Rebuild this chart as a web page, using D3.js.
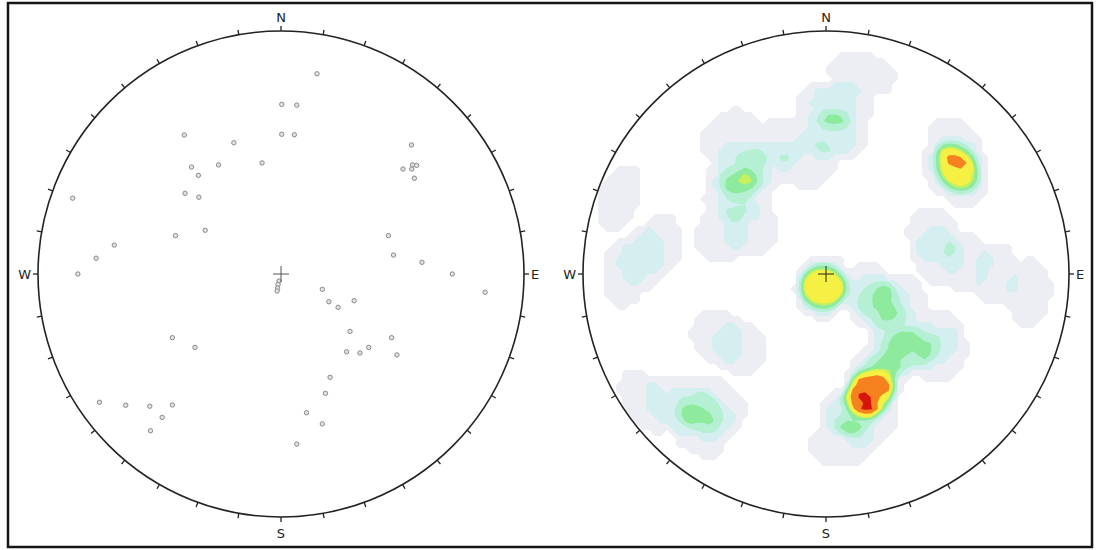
<!DOCTYPE html>
<html>
<head>
<meta charset="utf-8">
<script src="https://cdn.jsdelivr.net/npm/d3@7"></script>
<style>
  body { margin: 0; background: #fff; }
  svg { display: block; }
</style>
</head>
<body>
<svg id="chart" width="1096" height="550"></svg>
<script>
const poleX = [0.148, 0.003, 0.065, -0.398, -0.194, 0.003, 0.055, 0.537, -0.368, -0.257,
  -0.078, -0.340, 0.502, 0.538, 0.541, 0.558, 0.549, -0.857, -0.395, -0.338,
  -0.312, -0.434, -0.686, -0.761, 0.442, 0.463, 0.580, -0.836, 0.705, -0.008,
  -0.012, -0.014, -0.016, 0.170, 0.197, 0.235, 0.301, 0.840, -0.447, -0.354,
  0.284, 0.455, 0.270, 0.325, 0.361, 0.477, 0.202, 0.183, -0.747, -0.639,
  -0.540, -0.447, -0.489, -0.537, 0.105, 0.170, 0.065];
const poleY = [0.824, 0.698, 0.695, 0.572, 0.540, 0.575, 0.573, 0.531, 0.440, 0.449,
  0.457, 0.406, 0.432, 0.432, 0.449, 0.447, 0.394, 0.312, 0.332, 0.316,
  0.180, 0.158, 0.119, 0.065, 0.158, 0.078, 0.048, 0.000, 0.000, -0.029,
  -0.043, -0.058, -0.070, -0.063, -0.114, -0.137, -0.110, -0.075, -0.262, -0.302,
  -0.236, -0.262, -0.320, -0.325, -0.302, -0.333, -0.425, -0.491, -0.528, -0.540,
  -0.544, -0.539, -0.590, -0.645, -0.571, -0.617, -0.700];
// poles stacked on the same marker (guessed from the density plot)
const poleCount = [1, 1, 1, 1, 1, 1, 1, 1, 1, 1,
  1, 1, 1, 1, 1, 1, 1, 1, 1, 1,
  1, 1, 1, 1, 1, 1, 1, 1, 1, 1,
  1, 1, 2, 1, 1, 1, 1, 1, 1, 1,
  1, 1, 1, 1, 1, 1, 2, 4, 1, 1,
  1, 1, 1, 1, 2, 1, 1];

const directions = ["N", "E", "S", "W"];
const tickAngles = d3.range(0, 360, 10);
const densityLevels = [0.15, 1.2, 2.2, 3.2, 4.1, 4.5, 5.6, 6.75];
const levelColors = ["#eceef3", "#d5eff1", "#b6f0d4", "#8eeb9e", "#c6f05c", "#f6f044", "#f5821f", "#d8140f"];

const R = 243, cy = 274;
const nets = [{cx: 281, kind: "poles"}, {cx: 826, kind: "density"}];
const countRadius = 8, countSoft = 2.5; // degrees

const svg = d3.select("#chart");

svg.append("rect")
  .attr("x", 8).attr("y", 3).attr("width", 1084).attr("height", 544)
  .attr("fill", "none").attr("stroke", "#151515").attr("stroke-width", 2.5);

// unit-radius -> pixel offset
const unit = d3.scaleLinear().domain([-1, 1]).range([-R, R]);

// equal-area (lower hemisphere) inverse: projected point -> unit vector
function toVec(u, v) {
  const r2 = Math.min(u * u + v * v, 2);
  const s = Math.sqrt(2 - r2);
  return [u * s, v * s, 1 - r2];
}
const poleVecs = poleX.map((u, i) => toVec(u, poleY[i]));

// counting-circle density on a coarse grid
const step = 6, n = 84, half = step * n / 2;
const values = new Float64Array(n * n);
for (let j = 0; j < n; j++) {
  for (let i = 0; i < n; i++) {
    const u = unit.invert((i + 0.5) * step - half);
    const v = -unit.invert((j + 0.5) * step - half);
    const g = toVec(u, v);
    let sum = 0;
    poleVecs.forEach((p, k) => {
      const dot = Math.abs(p[0] * g[0] + p[1] * g[1] + p[2] * g[2]);
      const ang = Math.acos(Math.min(1, dot)) * 180 / Math.PI;
      let t = (countRadius + countSoft - ang) / (2 * countSoft);
      t = Math.max(0, Math.min(1, t));
      sum += poleCount[k] * t * t * (3 - 2 * t);
    });
    values[j * n + i] = sum;
  }
}
// low levels drawn blocky, the rest interpolated
const blocky = d3.contours().size([n, n]).smooth(false).thresholds(densityLevels.slice(0, 2))(values);
const smooth = d3.contours().size([n, n]).thresholds(densityLevels.slice(2))(values);
const bands = blocky.concat(smooth);

nets.forEach((net, idx) => {
  const g = svg.append("g");
  const x = d3.scaleLinear().domain([-1, 1]).range([net.cx - R, net.cx + R]);
  const y = d3.scaleLinear().domain([-1, 1]).range([cy + R, cy - R]);

  if (net.kind === "density") {
    const clipId = "clip" + idx;
    svg.append("clipPath").attr("id", clipId)
      .append("circle").attr("cx", net.cx).attr("cy", cy).attr("r", R);
    const path = d3.geoPath(d3.geoIdentity().scale(step).translate([net.cx - half, cy - half]));
    g.append("g").attr("clip-path", `url(#${clipId})`)
      .selectAll("path")
      .data(bands)
      .join("path")
        .attr("d", path)
        .attr("fill", (d, i) => levelColors[i]);
  }

  g.append("circle")
    .attr("cx", net.cx).attr("cy", cy).attr("r", R)
    .attr("fill", "none").attr("stroke", "#222").attr("stroke-width", 1.6);

  g.selectAll("line.tick")
    .data(tickAngles)
    .join("line")
      .attr("class", "tick")
      .attr("x1", a => net.cx + R * Math.sin(a * Math.PI / 180))
      .attr("y1", a => cy - R * Math.cos(a * Math.PI / 180))
      .attr("x2", a => net.cx + (R + 5) * Math.sin(a * Math.PI / 180))
      .attr("y2", a => cy - (R + 5) * Math.cos(a * Math.PI / 180))
      .attr("stroke", "#222").attr("stroke-width", 1.3);

  g.selectAll("text.dir")
    .data(directions)
    .join("text")
      .attr("class", "dir")
      .attr("x", (d, i) => [net.cx, net.cx + R + 7, net.cx, net.cx - R - 7][i])
      .attr("y", (d, i) => [cy - R - 9, cy + 5, cy + R + 21, cy + 5][i])
      .attr("text-anchor", (d, i) => ["middle", "start", "middle", "end"][i])
      .attr("font-family", "DejaVu Sans, sans-serif")
      .attr("font-size", 13)
      .attr("fill", "#222")
      .text(d => d);

  if (net.kind === "poles") {
    g.selectAll("circle.pole")
      .data(poleX.map((u, i) => [u, poleY[i]]))
      .join("circle")
        .attr("class", "pole")
        .attr("cx", d => x(d[0]))
        .attr("cy", d => y(d[1]))
        .attr("r", 2.2)
        .attr("fill", "#e2e2e2")
        .attr("stroke", "#8a8a8a")
        .attr("stroke-width", 1);
  }

  // centre cross
  g.append("path")
    .attr("d", `M${x(0) - 8},${y(0)}H${x(0) + 8}M${x(0)},${y(0) - 8}V${y(0) + 8}`)
    .attr("stroke", idx ? "#222" : "#555").attr("stroke-width", 1);
});
</script>
</body>
</html>
